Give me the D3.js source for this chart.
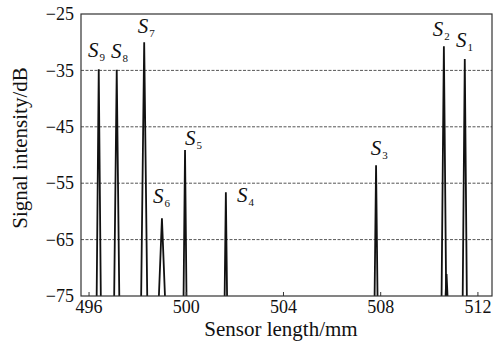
<!DOCTYPE html>
<html>
<head>
<meta charset="utf-8">
<script src="https://cdn.jsdelivr.net/npm/d3@7"></script>
<style>
  body { margin: 0; background: #fff; }
  text { font-family: "Liberation Serif", "Times New Roman", serif; fill: #111; }
</style>
</head>
<body>
<div id="vis"></div>
<script>
// peaks: centre (mm), top (dB), base width (mm)
const peakNames = ['9', '8', '7', '6', '5', '4', '3', '2', '', '1'];
const peakPos = [496.42, 497.16, 498.29, 499.02, 499.97, 501.65, 507.83, 510.62, 510.73, 511.48];
const peakTop = [-34.8, -34.9, -30.0, -61.2, -49.1, -56.6, -51.8, -30.7, -71.1, -33.0];
const peakWidth = [0.17, 0.21, 0.25, 0.25, 0.12, 0.1, 0.12, 0.19, 0.08, 0.17];

// label anchors (mm, dB)
const labelNames = ['9', '8', '7', '6', '5', '4', '3', '2', '1'];
const labelX = [495.98, 496.92, 498.03, 498.65, 499.97, 502.11, 507.61, 510.16, 511.12];
const labelY = [-32.6, -32.8, -28.4, -58.5, -48.2, -58.3, -50.0, -28.9, -30.8];

const xTicks = [496, 500, 504, 508, 512];
const yTicks = [-75, -65, -55, -45, -35, -25];
const gridTicks = [-65, -55, -45, -35];

const width = 499;
const height = 344;
const margin = { top: 14, right: 7, bottom: 48, left: 81 };

const svg = d3.select('#vis')
  .append('svg')
  .attr('width', width)
  .attr('height', height);

const x = d3.scaleLinear()
  .domain([495.69, 512.6])
  .range([margin.left, width - margin.right]);

const y = d3.scaleLinear()
  .domain([-75, -25])
  .range([height - margin.bottom, margin.top]);

const minus = (d) => d < 0 ? '\u2212' + Math.abs(d) : d;

// grid
svg.append('g')
  .selectAll('line')
  .data(gridTicks)
  .join('line')
  .attr('x1', x.range()[0])
  .attr('x2', x.range()[1])
  .attr('y1', (d) => y(d))
  .attr('y2', (d) => y(d))
  .attr('stroke', '#555')
  .attr('stroke-width', 1)
  .attr('stroke-dasharray', '3,1.5');

// peaks
const line = d3.line()
  .x((d) => x(d[0]))
  .y((d) => y(d[1]));

svg.append('g')
  .selectAll('path')
  .data(peakPos.map((p, i) => [
    [p - peakWidth[i] / 2, -75],
    [p, peakTop[i]],
    [p + peakWidth[i] / 2, -75]
  ]))
  .join('path')
  .attr('d', line)
  .attr('fill', 'none')
  .attr('stroke', '#111')
  .attr('stroke-width', 1.8)
  .attr('stroke-linejoin', 'miter');

// frame
svg.append('rect')
  .attr('x', x.range()[0])
  .attr('y', y.range()[1])
  .attr('width', x.range()[1] - x.range()[0])
  .attr('height', y.range()[0] - y.range()[1])
  .attr('fill', 'none')
  .attr('stroke', '#333')
  .attr('stroke-width', 1.2);

// axes
const xAxis = svg.append('g')
  .attr('transform', `translate(0,${y.range()[0]})`)
  .call(d3.axisBottom(x).tickValues(xTicks).tickSize(-4).tickPadding(4));
xAxis.select('.domain').remove();
xAxis.selectAll('text').attr('font-size', 18).attr('fill', '#111');
xAxis.selectAll('line').attr('stroke', '#333');

const yAxis = svg.append('g')
  .attr('transform', `translate(${x.range()[0]},0)`)
  .call(d3.axisLeft(y).tickValues(yTicks).tickSize(0).tickPadding(7).tickFormat(minus));
yAxis.select('.domain').remove();
yAxis.selectAll('text').attr('font-size', 18).attr('fill', '#111');

// peak labels
const labels = svg.append('g')
  .selectAll('text')
  .data(labelNames)
  .join('text')
  .attr('x', (d, i) => x(labelX[i]))
  .attr('y', (d, i) => y(labelY[i]))
  .attr('font-size', 21);
labels.append('tspan').attr('font-style', 'italic').text('S');
labels.append('tspan').attr('font-size', 11).attr('dy', 4).attr('dx', 1).text((d) => d);

// titles
svg.append('text')
  .attr('x', 281)
  .attr('y', 336)
  .attr('text-anchor', 'middle')
  .attr('font-size', 21)
  .text('Sensor length/mm');

svg.append('text')
  .attr('transform', 'translate(27,148) rotate(-90)')
  .attr('text-anchor', 'middle')
  .attr('font-size', 21)
  .text('Signal intensity/dB');
</script>
</body>
</html>
